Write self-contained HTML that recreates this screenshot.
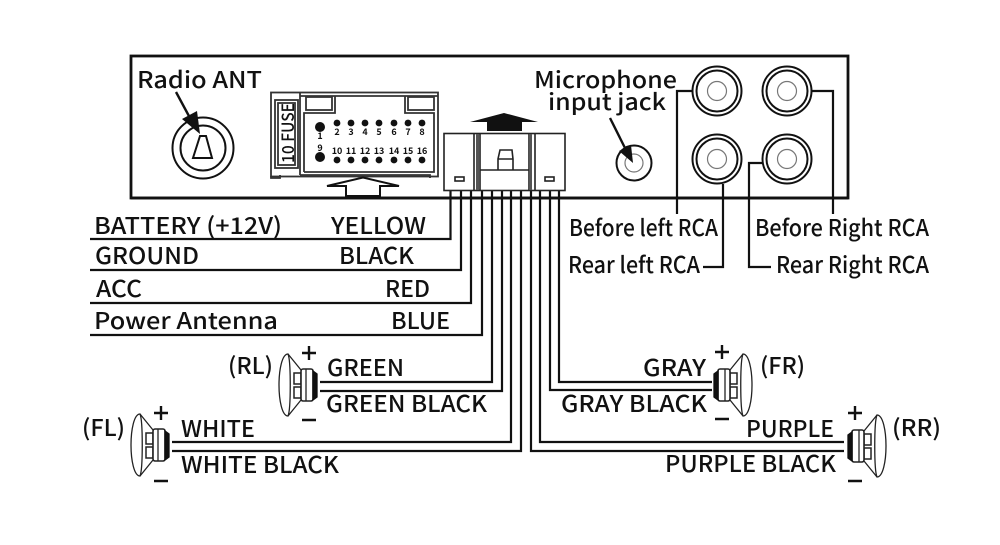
<!DOCTYPE html>
<html><head><meta charset="utf-8"><style>
html,body{margin:0;padding:0;background:#fff;width:1000px;height:545px;overflow:hidden}
svg{display:block}
text{font-family:"Noto Sans CJK SC","Liberation Sans",sans-serif;fill:#111;font-size:23px;font-weight:500}
.n{font-size:9px;font-weight:700;text-anchor:middle}
</style></head><body>
<svg width="1000" height="545" viewBox="0 0 1000 545" xmlns="http://www.w3.org/2000/svg">
<defs>
<g id="spk" fill="none" stroke="#222" stroke-width="1.3">
<path d="M9 -31 C3 -31 0 -15 0 0 C0 15 3 31 9 31 C12 24 12 -24 9 -31Z" fill="#fff"/>
<path d="M9 -31 L22 -15 M9 31 L22 15"/>
<rect x="15" y="-12" width="7" height="11" stroke-width="1.5"/><rect x="15" y="2" width="7" height="11" stroke-width="1.5"/>
<rect x="22" y="-16" width="12" height="32" rx="2" stroke-width="1.6" fill="#fff"/>
<line x1="27" y1="-16" x2="27" y2="16"/>
<path d="M34 -14 L38 -11 L38 12 L34 15Z" fill="#111" stroke="#111"/>
</g>
</defs>

<rect x="131" y="56" width="717" height="142" fill="#fff" stroke="#111" stroke-width="2.8"/>

<!-- wires -->
<g fill="none" stroke="#111" stroke-width="2.2">
<path d="M90 239H450.500V190"/>
<path d="M90 270H461V190"/>
<path d="M90 303H471V190"/>
<path d="M90 335H482V190"/>
<path d="M320 382H492V190"/>
<path d="M320 391H502V190"/>
<path d="M172 442H511V190"/>
<path d="M172 451H521V190"/>
<path d="M712 382H559V190"/>
<path d="M712 390H550V190"/>
<path d="M844 442H540V190"/>
<path d="M844 451H531V190"/>
<path d="M692 91H677V214"/>
<path d="M723 184V267H703"/>
<path d="M763 163H749V267H771"/>
<path d="M812 91H833V214"/>
</g>
<line x1="131" y1="198" x2="848" y2="198" stroke="#111" stroke-width="2.8"/>

<!-- antenna -->
<text x="137" y="88" textLength="125" lengthAdjust="spacingAndGlyphs">Radio ANT</text>
<g fill="none" stroke="#111">
<circle cx="203" cy="148" r="30.500" stroke-width="2"/>
<circle cx="203" cy="148" r="22.500" stroke-width="2"/>
<path d="M200 136H206L212 158H193Z" stroke-width="2"/>
<line x1="176" y1="92" x2="190" y2="118" stroke-width="2.4"/>
</g>
<polygon points="182,119 197,111 200,134" fill="#111"/>

<!-- 16-pin connector -->
<g fill="none" stroke="#333" stroke-width="1.8">
<rect x="271" y="92.500" width="167" height="84"/>
<path d="M300 92.500V175M300 96H438M300 175H430V178M271 176V178H280V175"/>
<rect x="275" y="100" width="23" height="68"/>
<rect x="278" y="103" width="17" height="62"/>
<rect x="306" y="97" width="26" height="13"/>
<rect x="408" y="97" width="26" height="13"/>
<path d="M304 172V113H335V96M405 96V113H434V172H304"/>
<path d="M327 186L363 177.500L399 186H380V196H346V186Z" stroke="#111" stroke-width="2"/>
</g>
<text x="294" y="163" transform="rotate(-90 294 163)" textLength="60" lengthAdjust="spacingAndGlyphs" style="font-size:17px;font-weight:500">10 FUSE</text>
<g fill="#111">
<circle cx="320" cy="127" r="5"/><circle cx="320" cy="157" r="5"/>
<circle cx="337" cy="123" r="3.400"/><circle cx="351" cy="123" r="3.400"/><circle cx="365" cy="123" r="3.400"/><circle cx="379" cy="123" r="3.400"/><circle cx="394" cy="123" r="3.400"/><circle cx="408" cy="123" r="3.400"/><circle cx="422" cy="123" r="3.400"/>
<circle cx="337" cy="160" r="3.400"/><circle cx="351" cy="160" r="3.400"/><circle cx="365" cy="160" r="3.400"/><circle cx="379" cy="160" r="3.400"/><circle cx="394" cy="160" r="3.400"/><circle cx="408" cy="160" r="3.400"/><circle cx="422" cy="160" r="3.400"/>
</g>
<text class="n" x="320" y="139">1</text><text class="n" x="337" y="135">2</text><text class="n" x="351" y="135">3</text><text class="n" x="365" y="135">4</text><text class="n" x="379" y="135">5</text><text class="n" x="394" y="135">6</text><text class="n" x="408" y="135">7</text><text class="n" x="422" y="135">8</text>
<text class="n" x="320" y="151">9</text><text class="n" x="337" y="154">10</text><text class="n" x="351" y="154">11</text><text class="n" x="365" y="154">12</text><text class="n" x="379" y="154">13</text><text class="n" x="394" y="154">14</text><text class="n" x="408" y="154">15</text><text class="n" x="422" y="154">16</text>

<!-- center connector -->
<g fill="#fff" stroke="#222" stroke-width="1.6">
<rect x="444" y="133.500" width="121" height="57"/>
<path fill="none" d="M474 133.500V190.500M480 133.500V190.500M529 133.500V190.500M535 133.500V190.500"/>
<path fill="none" d="M480 170H529"/>
<path fill="none" d="M498 170V159L500 150H512L513 159V170M498 159H513"/>
<rect x="455" y="177" width="9" height="4"/><rect x="545" y="177" width="9" height="4"/>
</g>
<rect x="476" y="134" width="3" height="56" fill="#555"/><rect x="529" y="134" width="3" height="56" fill="#555"/>
<polygon points="470,122 504,113 538,122 522,122 522,131 487,131 487,122" fill="#111"/>

<!-- mic -->
<text x="534" y="88" textLength="143" lengthAdjust="spacingAndGlyphs">Microphone</text>
<text x="548" y="110" textLength="118" lengthAdjust="spacingAndGlyphs">input jack</text>
<circle cx="634" cy="163" r="17.500" fill="none" stroke="#111" stroke-width="2"/>
<circle cx="634" cy="163" r="9" fill="none" stroke="#777" stroke-width="1.2"/>
<line x1="610" y1="118" x2="625" y2="148" stroke="#111" stroke-width="2.4"/>
<polygon points="619,151 631,145 633,163" fill="#111"/>

<!-- RCA -->
<g fill="#fff" stroke="#111" stroke-width="2">
<g><circle cx="717" cy="91" r="24.500"/><circle cx="717" cy="91" r="20.500"/><circle cx="717" cy="91" r="9.500" stroke="#777" stroke-width="1.2"/></g>
<g><circle cx="787" cy="91" r="24.500"/><circle cx="787" cy="91" r="20.500"/><circle cx="787" cy="91" r="9.500" stroke="#777" stroke-width="1.2"/></g>
<g><circle cx="717" cy="159" r="24.500"/><circle cx="717" cy="159" r="20.500"/><circle cx="717" cy="159" r="9.500" stroke="#777" stroke-width="1.2"/></g>
<g><circle cx="787" cy="159" r="24.500"/><circle cx="787" cy="159" r="20.500"/><circle cx="787" cy="159" r="9.500" stroke="#777" stroke-width="1.2"/></g>
</g>

<!-- labels -->
<text x="569" y="236" textLength="149" lengthAdjust="spacingAndGlyphs">Before left RCA</text>
<text x="568" y="273" textLength="132" lengthAdjust="spacingAndGlyphs">Rear left RCA</text>
<text x="755" y="236" textLength="174" lengthAdjust="spacingAndGlyphs">Before Right RCA</text>
<text x="776" y="273" textLength="153" lengthAdjust="spacingAndGlyphs">Rear Right RCA</text>

<text x="94" y="234" textLength="188" lengthAdjust="spacingAndGlyphs">BATTERY (+12V)</text>
<text x="331" y="234" textLength="95" lengthAdjust="spacingAndGlyphs">YELLOW</text>
<text x="95" y="264" textLength="104" lengthAdjust="spacingAndGlyphs">GROUND</text>
<text x="339" y="264" textLength="75" lengthAdjust="spacingAndGlyphs">BLACK</text>
<text x="96" y="297" textLength="46" lengthAdjust="spacingAndGlyphs">ACC</text>
<text x="385" y="297" textLength="45" lengthAdjust="spacingAndGlyphs">RED</text>
<text x="94" y="329" textLength="184" lengthAdjust="spacingAndGlyphs">Power Antenna</text>
<text x="391" y="329" textLength="59" lengthAdjust="spacingAndGlyphs">BLUE</text>
<text x="327" y="376" textLength="77" lengthAdjust="spacingAndGlyphs">GREEN</text>
<text x="326" y="412" textLength="161" lengthAdjust="spacingAndGlyphs">GREEN BLACK</text>
<text x="181" y="437" textLength="74" lengthAdjust="spacingAndGlyphs">WHITE</text>
<text x="181" y="473" textLength="158" lengthAdjust="spacingAndGlyphs">WHITE BLACK</text>
<text x="643" y="376" textLength="63" lengthAdjust="spacingAndGlyphs">GRAY</text>
<text x="561" y="412" textLength="146" lengthAdjust="spacingAndGlyphs">GRAY BLACK</text>
<text x="746" y="437" textLength="88" lengthAdjust="spacingAndGlyphs">PURPLE</text>
<text x="665" y="472" textLength="171" lengthAdjust="spacingAndGlyphs">PURPLE BLACK</text>
<text x="228" y="374" textLength="45" lengthAdjust="spacingAndGlyphs">(RL)</text>
<text x="82" y="436" textLength="43" lengthAdjust="spacingAndGlyphs">(FL)</text>
<text x="760" y="374" textLength="45" lengthAdjust="spacingAndGlyphs">(FR)</text>
<text x="892" y="436" textLength="49" lengthAdjust="spacingAndGlyphs">(RR)</text>

<!-- speakers -->
<use href="#spk" transform="translate(279 385)"/>
<use href="#spk" transform="translate(131 445)"/>
<use href="#spk" transform="translate(752 385) scale(-1 1)"/>
<use href="#spk" transform="translate(886 446) scale(-1 1)"/>

<g stroke="#111" stroke-width="2.4">
<path d="M302 353H316M309 346V360M302 420H316"/>
<path d="M154 413H168M161 406V420M154 481H168"/>
<path d="M715 352H729M722 345V359M715 419H729"/>
<path d="M848 413H862M855 406V420M848 481H862"/>
</g>
</svg>
</body></html>
